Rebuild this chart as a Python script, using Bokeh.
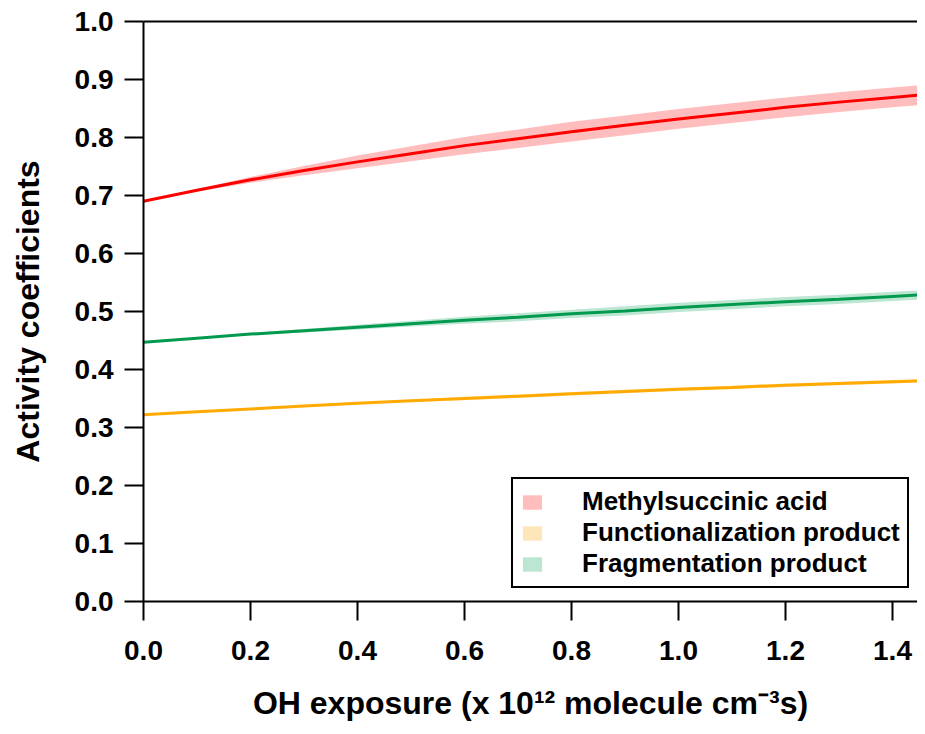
from bokeh.plotting import figure
from bokeh.models import Range1d, LinearAxis, FixedTicker, Legend, LegendItem
from bokeh.embed import file_html
from bokeh.resources import INLINE

# ---- data ----
oh_exposure = [0.0, 0.1, 0.2, 0.3, 0.4, 0.5, 0.6, 0.7, 0.8, 0.9, 1.0, 1.1, 1.2, 1.3, 1.4, 1.5]
methylsuccinic = [0.690, 0.709, 0.727, 0.743, 0.758, 0.772, 0.786, 0.798, 0.810, 0.821,
                  0.832, 0.842, 0.852, 0.861, 0.869, 0.877]
methylsuccinic_err = [0.000, 0.002, 0.005, 0.008, 0.011, 0.013, 0.015, 0.016, 0.017, 0.017,
                      0.017, 0.017, 0.017, 0.017, 0.017, 0.017]
functionalization = [0.322, 0.327, 0.332, 0.337, 0.342, 0.346, 0.350, 0.354, 0.358, 0.362,
                     0.366, 0.369, 0.373, 0.376, 0.379, 0.382]
functionalization_err = [0.000, 0.001, 0.001, 0.002, 0.002, 0.002, 0.003, 0.003, 0.003, 0.003,
                         0.003, 0.003, 0.003, 0.003, 0.003, 0.003]
fragmentation = [0.447, 0.454, 0.461, 0.467, 0.473, 0.479, 0.485, 0.490, 0.496, 0.501,
                 0.507, 0.512, 0.517, 0.521, 0.526, 0.531]
fragmentation_err = [0.000, 0.001, 0.002, 0.003, 0.004, 0.005, 0.006, 0.007, 0.007, 0.008,
                     0.008, 0.008, 0.008, 0.008, 0.008, 0.008]

series_names = ["Methylsuccinic acid", "Functionalization product", "Fragmentation product"]
x_ticks = [0.0, 0.2, 0.4, 0.6, 0.8, 1.0, 1.2, 1.4]
y_ticks = [0.0, 0.1, 0.2, 0.3, 0.4, 0.5, 0.6, 0.7, 0.8, 0.9, 1.0]
x_title = "OH exposure (x 10\u00b9\u00b2 molecule cm\u207b\u00b3s)"
y_title = "Activity coefficients"

FONT = "Liberation Sans"

p = figure(width=917, height=726, output_backend="svg", toolbar_location=None,
           x_range=Range1d(0, 1.4467), y_range=Range1d(0, 1.0),
           min_border_left=143, min_border_right=0, min_border_top=21, min_border_bottom=125)
p.outline_line_color = None
p.xgrid.visible = False
p.ygrid.visible = False
p.background_fill_color = "white"
p.border_fill_color = "white"

styles = [
    (methylsuccinic, methylsuccinic_err, "#FF0000", "#FFBDBD"),
    (functionalization, functionalization_err, "#FFAA00", "#FFE6BA"),
    (fragmentation, fragmentation_err, "#009A4E", "#BDE6D2"),
]
band_renderers = []
for vals, err, lc, fc in styles:
    lo = [v - e for v, e in zip(vals, err)]
    hi = [v + e for v, e in zip(vals, err)]
    r = p.varea(x=oh_exposure, y1=lo, y2=hi, fill_color=fc, fill_alpha=1.0)
    band_renderers.append(r)
for vals, err, lc, fc in styles:
    p.line(x=oh_exposure, y=vals, line_color=lc, line_width=3)

# axes
for ax in (p.xaxis[0], p.yaxis[0]):
    ax.axis_line_width = 2
    ax.axis_line_color = "black"
    ax.major_tick_line_width = 2
    ax.major_tick_line_color = "black"
    ax.major_tick_in = 0
    ax.major_tick_out = 19
    ax.minor_tick_line_color = None
    ax.major_label_text_font = FONT
    ax.major_label_text_font_style = "bold"
    ax.major_label_text_font_size = "28px"
    ax.major_label_text_color = "black"
    ax.axis_label_text_font = FONT
    ax.axis_label_text_font_style = "bold"
    ax.axis_label_text_font_size = "32px"
    ax.axis_label_text_color = "black"

p.xaxis[0].ticker = FixedTicker(ticks=x_ticks)
p.yaxis[0].ticker = FixedTicker(ticks=y_ticks)
p.xaxis[0].major_label_overrides = {t: f"{t:.1f}" for t in x_ticks}
p.yaxis[0].major_label_overrides = {t: f"{t:.1f}" for t in y_ticks}
p.xaxis[0].major_label_standoff = 20
p.yaxis[0].major_label_standoff = 11

p.yaxis[0].axis_label = y_title
p.yaxis[0].axis_label_standoff = 26
p.xaxis[0].axis_label = x_title
p.xaxis[0].axis_label_standoff = 22

# top frame line
top = LinearAxis(ticker=FixedTicker(ticks=[]), major_label_text_font_size="0px",
                 axis_line_width=2, axis_line_color="black", major_tick_out=0,
                 minor_tick_out=0)
p.add_layout(top, "above")

legend = Legend(items=[LegendItem(label=n, renderers=[r]) for n, r in zip(series_names, band_renderers)],
                location=(368, 13))
legend.label_text_font = FONT
legend.label_text_font_style = "bold"
legend.label_text_font_size = "26px"
legend.label_text_color = "black"
legend.glyph_width = 24
legend.glyph_height = 18
legend.label_standoff = 38
legend.label_height = 26
legend.spacing = 0
legend.padding = 7
legend.border_line_color = "black"
legend.border_line_width = 2
legend.border_line_alpha = 1.0
legend.background_fill_color = "white"
legend.background_fill_alpha = 1.0
p.add_layout(legend, "center")

open("out.html", "w").write(file_html(p, INLINE))
